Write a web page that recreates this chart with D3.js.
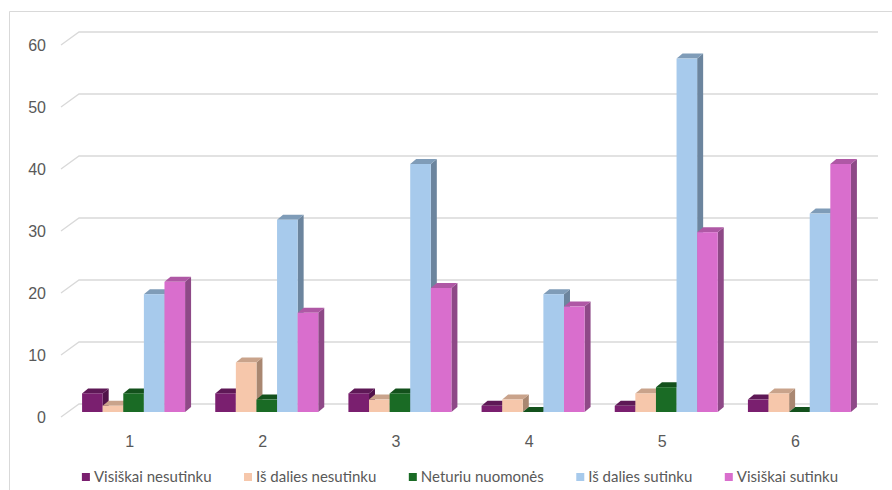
<!DOCTYPE html>
<html>
<head>
<meta charset="utf-8">
<script src="https://cdn.jsdelivr.net/npm/d3@7/dist/d3.min.js"></script>
<style>
  html, body { margin: 0; padding: 0; background: #fff; }
  svg { display: block; }
</style>
</head>
<body>
<svg id="chart" width="892" height="490"></svg>
<script>
// Survey answers per statement
const categories = ["1", "2", "3", "4", "5", "6"];
const seriesNames = ["Visiškai nesutinku", "Iš dalies nesutinku", "Neturiu nuomonės", "Iš dalies sutinku", "Visiškai sutinku"];
const visiskaiNesutinku = [3, 3, 3, 1, 1, 2];
const isDaliesNesutinku = [1, 8, 2, 2, 3, 3];
const neturiuNuomones  = [3, 2, 3, 0, 4, 0];
const isDaliesSutinku   = [19, 31, 40, 19, 57, 32];
const visiskaiSutinku   = [21, 16, 20, 17, 29, 40];
const yTicks = [0, 10, 20, 30, 40, 50, 60];

const seriesValues = [visiskaiNesutinku, isDaliesNesutinku, neturiuNuomones, isDaliesSutinku, visiskaiSutinku];

// face shades: front, top, side
const shades = [
  { front: "#7A1F6F", top: "#5E1856", side: "#51134A" },
  { front: "#F6C7AB", top: "#C9A38B", side: "#A98771" },
  { front: "#1A6B25", top: "#13511C", side: "#0F4417" },
  { front: "#A7CAEC", top: "#7F9CB8", side: "#6C859E" },
  { front: "#D96ECD", top: "#AF58A5", side: "#8E4987" }
];

const svg = d3.select("#chart");
const textColor = "#595959";
const gridColor = "#d9d9d9";

// chart frame
svg.append("path")
  .attr("d", "M9.5,490 L9.5,11.5 L892,11.5")
  .attr("fill", "none").attr("stroke", gridColor).attr("stroke-width", 1);

// front-plane scales; the back wall is offset by (wallDx, wallDy)
const x = d3.scaleBand().domain(categories).range([61, 860]).paddingInner(0).paddingOuter(0);
const y = d3.scaleLinear().domain([0, 60]).range([417, 45]);
const wallDx = 18, wallDy = -13;
const barDx = 6, barDy = -5;       // bar position inside the depth
const depthDx = 6, depthDy = -5;   // bar thickness
const barW = 20.6;

// gridlines on side and back wall
const grid = svg.append("g");
yTicks.forEach(t => {
  const yy = y(t);
  grid.append("path")
    .attr("d", `M61,${yy} L${61 + wallDx},${yy + wallDy} L878,${yy + wallDy}`)
    .attr("fill", "none").attr("stroke", gridColor).attr("stroke-width", 1.3);
});

// value axis labels
const yAxis = d3.axisLeft(y).tickValues(yTicks).tickSize(0).tickPadding(0).tickFormat(d3.format("d"));
const yg = svg.append("g").attr("transform", "translate(46,0)").call(yAxis);
yg.select(".domain").remove();
yg.selectAll("text")
  .attr("fill", textColor)
  .attr("font-family", "'Liberation Sans', Arial, sans-serif")
  .attr("font-size", 16)
  .attr("dy", "0.36em");

// category labels
const xAxis = d3.axisBottom(x).tickSize(0).tickPadding(0);
const xg = svg.append("g").attr("transform", "translate(2,441)").call(xAxis);
xg.select(".domain").remove();
xg.selectAll("text")
  .attr("fill", textColor)
  .attr("font-family", "'Liberation Sans', Arial, sans-serif")
  .attr("font-size", 16)
  .attr("dy", "0.36em");

// 3D columns, painted left to right
const bars = svg.append("g");
const groupW = barW * seriesNames.length;
categories.forEach((c, ci) => {
  const x0 = x(c) + (x.bandwidth() - groupW) / 2 + barDx;
  seriesValues.forEach((vals, si) => {
    const v = vals[ci];
    const l = x0 + si * barW, r = l + barW;
    const b = y(0) + barDy, t = y(v) + barDy;
    const s = shades[si];
    const g = bars.append("g");
    // side face
    g.append("path")
      .attr("d", `M${r},${b} L${r + depthDx},${b + depthDy} L${r + depthDx},${t + depthDy} L${r},${t} Z`)
      .attr("fill", s.side);
    // top face
    g.append("path")
      .attr("d", `M${l},${t} L${l + depthDx},${t + depthDy} L${r + depthDx},${t + depthDy} L${r},${t} Z`)
      .attr("fill", s.top);
    // front face
    if (v > 0) {
      g.append("rect")
        .attr("x", l).attr("y", t).attr("width", barW).attr("height", b - t)
        .attr("fill", s.front);
    }
  });
});

// legend
const legend = svg.append("g").attr("font-family", "Lato, 'Open Sans', sans-serif").attr("font-size", 15);
const items = legend.selectAll("g").data(seriesNames).join("g");
items.append("rect").attr("width", 8).attr("height", 8).attr("y", -4)
  .attr("fill", (d, i) => shades[i].front);
items.append("text").attr("x", 12).attr("dy", "0.35em").attr("fill", textColor).text(d => d);
let widths = [];
items.each(function () { widths.push(12 + d3.select(this).select("text").node().getComputedTextLength()); });
const gap = 32.5;
const total = d3.sum(widths) + gap * (widths.length - 1);
let cx = 460 - total / 2;
items.attr("transform", (d, i) => {
  const tx = cx;
  cx += widths[i] + gap;
  return `translate(${tx},477)`;
});
</script>
</body>
</html>
